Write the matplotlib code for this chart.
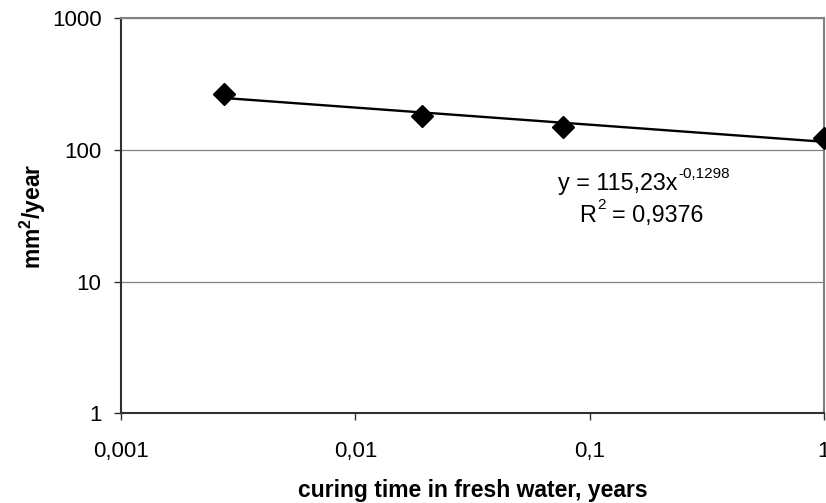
import numpy as np
import matplotlib
matplotlib.use('Agg')
import matplotlib.pyplot as plt

plt.rcParams['font.family'] = ['Liberation Sans', 'DejaVu Sans']
plt.rcParams['mathtext.fontset'] = 'custom'
plt.rcParams['mathtext.rm'] = 'Liberation Sans'
plt.rcParams['mathtext.it'] = 'Liberation Sans:italic'
plt.rcParams['mathtext.bf'] = 'Liberation Sans:bold'

# data: curing time (years) vs diffusion coefficient (mm2/year)
curing_time = [1 / 365, 7 / 365, 28 / 365, 1.0]
diffusion = [265, 181, 149, 123]

# power trendline reported on the chart
coef_a = 115.23
coef_b = -0.1298
r_squared = 0.9376

x_ticks = [0.001, 0.01, 0.1, 1]
x_tick_labels = ['0,001', '0,01', '0,1', '1']
y_ticks = [1, 10, 100, 1000]
y_tick_labels = ['1', '10', '100', '1000']

fig = plt.figure(figsize=(8.26, 5.03), dpi=100)
ax = fig.add_axes([0.1465, 0.178, 0.851, 0.786])

# trendline over the data range
x_fit = np.logspace(np.log10(curing_time[0]), np.log10(curing_time[-1]), 50)
y_fit = coef_a * x_fit ** coef_b
ax.plot(x_fit, y_fit, color='black', linewidth=1.7, zorder=3, clip_on=False)

ax.plot(curing_time, diffusion, linestyle='none', marker='D', markersize=10.8,
        color='black', zorder=4, clip_on=False)

ax.set_xscale('log')
ax.set_yscale('log')
ax.set_xlim(0.001, 1)
ax.set_ylim(1, 1000)

ax.set_xticks(x_ticks)
ax.set_xticklabels(x_tick_labels)
ax.set_yticks(y_ticks)
ax.set_yticklabels(y_tick_labels)
ax.minorticks_off()
ax.tick_params(axis='both', direction='out', length=5, width=1, labelsize=16,
               color='#303030')
ax.tick_params(axis='x', pad=15)
ax.tick_params(axis='y', pad=9)

ax.grid(True, axis='y', color='#808080', linewidth=0.9)
ax.set_axisbelow(True)

for side in ['top', 'right']:
    ax.spines[side].set_color('#808080')
    ax.spines[side].set_linewidth(1.5)
for side in ['left', 'bottom']:
    ax.spines[side].set_color('#303030')
    ax.spines[side].set_linewidth(1.5)

ax.set_xlabel('curing time in fresh water, years', fontsize=16.5, fontweight='bold',
              labelpad=12)
ax.set_ylabel(r'mm$^{\mathbf{2}}$/year', fontsize=16.5, fontweight='bold', labelpad=3)

# trendline equation, written in pieces so the superscripts keep the comma style
H = 503
eq_kw = dict(xycoords='figure pixels', va='baseline', fontsize=16.8)
sup_kw = dict(xycoords='figure pixels', va='baseline', fontsize=11)
ax.annotate('y = 115,23x', (677, H - 190), ha='right', **eq_kw)
ax.annotate('-0,1298', (678, H - 178), ha='left', **sup_kw)
ax.annotate('R', (596, H - 222), ha='right', **eq_kw)
ax.annotate('2', (597, H - 209), ha='left', **sup_kw)
ax.annotate('= 0,9376', (612, H - 222), ha='left', **eq_kw)

fig.savefig('out.png', dpi=100)
